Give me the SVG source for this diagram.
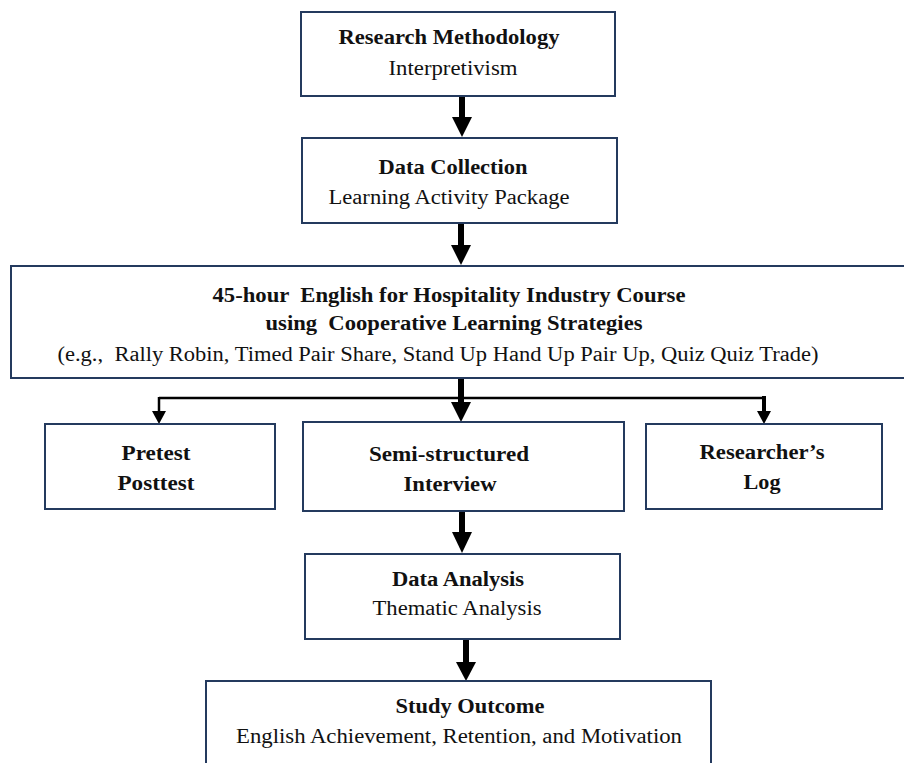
<svg xmlns="http://www.w3.org/2000/svg" width="904" height="763" viewBox="0 0 904 763">
<style>
.box{fill:#fff;stroke:#243a5e;stroke-width:2}
.t{font-family:"Liberation Serif","Times New Roman",serif;font-size:20px;fill:#111;text-anchor:middle;white-space:pre}
.b{font-weight:bold}
.shaft{stroke:#000;stroke-width:6;fill:none}
.thin{stroke:#000;stroke-width:2.5;fill:none}
.head{fill:#000}
</style>
<rect width="904" height="763" fill="#fff"/>
<g id="connectors">
<path class="shaft" d="M462 96V118"/>
<polygon class="head" points="452,117 472,117 462,137"/>
<path class="shaft" d="M461 223V246"/>
<polygon class="head" points="451,245 471,245 461,265"/>
<path class="shaft" d="M461 378V403"/>
<polygon class="head" points="451,402 471,402 461,422"/>
<path class="thin" d="M159 398H764"/>
<path class="thin" d="M159 397V412"/>
<polygon class="head" points="152,411 166,411 159,424"/>
<path class="shaft" d="M764 396V412" style="stroke-width:4"/>
<polygon class="head" points="757,411 771,411 764,424"/>
<path class="shaft" d="M462 511V533"/>
<polygon class="head" points="452,532 472,532 462,553"/>
<path class="shaft" d="M466 639V663"/>
<polygon class="head" points="456,662 476,662 466,681"/>
</g>
<g id="research-methodology">
<rect class="box" x="301" y="12" width="314" height="84"/>
<text class="t b" x="449" y="44" textLength="221" lengthAdjust="spacingAndGlyphs">Research Methodology</text>
<text class="t" x="453" y="75" textLength="129" lengthAdjust="spacingAndGlyphs">Interpretivism</text>
</g>
<g id="data-collection">
<rect class="box" x="302" y="138" width="315" height="85"/>
<text class="t b" x="453" y="174" textLength="149" lengthAdjust="spacingAndGlyphs">Data Collection</text>
<text class="t" x="449" y="204" textLength="241" lengthAdjust="spacingAndGlyphs">Learning Activity Package</text>
</g>
<g id="course">
<rect class="box" x="11" y="266" width="900" height="112"/>
<text class="t b" x="449" y="302" textLength="473" lengthAdjust="spacingAndGlyphs" xml:space="preserve">45-hour  English for Hospitality Industry Course</text>
<text class="t b" x="454" y="330" textLength="377" lengthAdjust="spacingAndGlyphs" xml:space="preserve">using  Cooperative Learning Strategies</text>
<text class="t" x="438" y="361" textLength="761" lengthAdjust="spacingAndGlyphs" xml:space="preserve">(e.g.,  Rally Robin, Timed Pair Share, Stand Up Hand Up Pair Up, Quiz Quiz Trade)</text>
</g>
<g id="pretest-posttest">
<rect class="box" x="45" y="424" width="230" height="85"/>
<text class="t b" x="156" y="460" textLength="69" lengthAdjust="spacingAndGlyphs">Pretest</text>
<text class="t b" x="156" y="490" textLength="77" lengthAdjust="spacingAndGlyphs">Posttest</text>
</g>
<g id="interview">
<rect class="box" x="303" y="422" width="321" height="89"/>
<text class="t b" x="449" y="461" textLength="160" lengthAdjust="spacingAndGlyphs">Semi-structured</text>
<text class="t b" x="450" y="491" textLength="93" lengthAdjust="spacingAndGlyphs">Interview</text>
</g>
<g id="researchers-log">
<rect class="box" x="646" y="424" width="236" height="85"/>
<text class="t b" x="762" y="459" textLength="125" lengthAdjust="spacingAndGlyphs">Researcher’s</text>
<text class="t b" x="762" y="489" textLength="37" lengthAdjust="spacingAndGlyphs">Log</text>
</g>
<g id="data-analysis">
<rect class="box" x="305" y="554" width="315" height="85"/>
<text class="t b" x="458" y="586" textLength="132" lengthAdjust="spacingAndGlyphs">Data Analysis</text>
<text class="t" x="457" y="615" textLength="169" lengthAdjust="spacingAndGlyphs">Thematic Analysis</text>
</g>
<g id="study-outcome">
<rect class="box" x="206" y="681" width="505" height="90"/>
<text class="t b" x="470" y="713" textLength="149" lengthAdjust="spacingAndGlyphs">Study Outcome</text>
<text class="t" x="459" y="743" textLength="446" lengthAdjust="spacingAndGlyphs">English Achievement, Retention, and Motivation</text>
</g>
</svg>
